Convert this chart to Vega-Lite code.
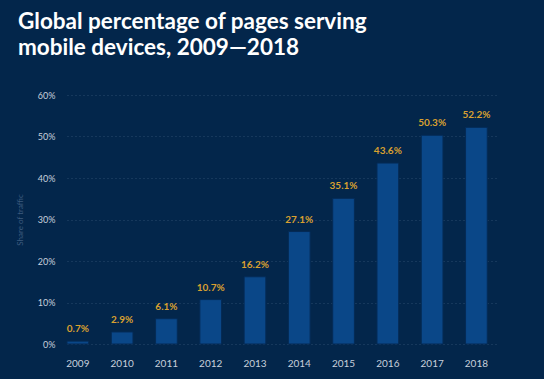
{
  "$schema": "https://vega.github.io/schema/vega-lite/v6.json",
  "width": 430,
  "height": 249,
  "autosize": "none",
  "padding": {"left": 67, "top": 95, "right": 47, "bottom": 35},
  "background": "#03264b",
  "title": {
    "text": ["Global percentage of pages serving", "mobile devices, 2009\u20142018"],
    "anchor": "start",
    "frame": "group",
    "dx": -49,
    "offset": 32,
    "font": "Lato",
    "fontSize": 22.5,
    "fontWeight": "bold",
    "lineHeight": 26,
    "color": "#ffffff"
  },
  "config": {
    "view": {"stroke": null},
    "font": "Lato"
  },
  "data": {
    "values": [
      {"year": "2009", "share": 0.7},
      {"year": "2010", "share": 2.9},
      {"year": "2011", "share": 6.1},
      {"year": "2012", "share": 10.7},
      {"year": "2013", "share": 16.2},
      {"year": "2014", "share": 27.1},
      {"year": "2015", "share": 35.1},
      {"year": "2016", "share": 43.6},
      {"year": "2017", "share": 50.3},
      {"year": "2018", "share": 52.2}
    ]
  },
  "encoding": {
    "x": {
      "field": "year",
      "type": "ordinal",
      "scale": {"paddingInner": 0.51, "paddingOuter": 0.11, "align": 0},
      "axis": {
        "title": null,
        "labelAngle": 0,
        "domain": false,
        "ticks": false,
        "labelPadding": 14,
        "labelFontSize": 10,
        "labelColor": "#c8d0dc"
      }
    },
    "y": {
      "field": "share",
      "type": "quantitative",
      "scale": {"domain": [0, 60]},
      "axis": {
        "title": "Share of traffic",
        "titleFontSize": 8,
        "titleFontWeight": "normal",
        "titleColor": "#3d5b7e",
        "titleX": -43,
        "values": [0, 10, 20, 30, 40, 50, 60],
        "labelExpr": "datum.value + '%'",
        "domain": false,
        "ticks": false,
        "labelPadding": 12,
        "labelFontSize": 9,
        "labelColor": "#c8d0dc",
        "gridColor": "#2b4a6e",
        "gridDash": [1, 3],
        "gridWidth": 1
      }
    }
  },
  "layer": [
    {
      "mark": {"type": "bar", "color": "#0a4788", "stroke": "#052b56", "strokeWidth": 1}
    },
    {
      "mark": {
        "type": "text",
        "baseline": "bottom",
        "dy": -7,
        "fontSize": 10,
        "fontWeight": "bold",
        "color": "#d9a030",
        "text": {"expr": "format(datum.share, '.1f') + '%'"}
      }
    }
  ]
}
